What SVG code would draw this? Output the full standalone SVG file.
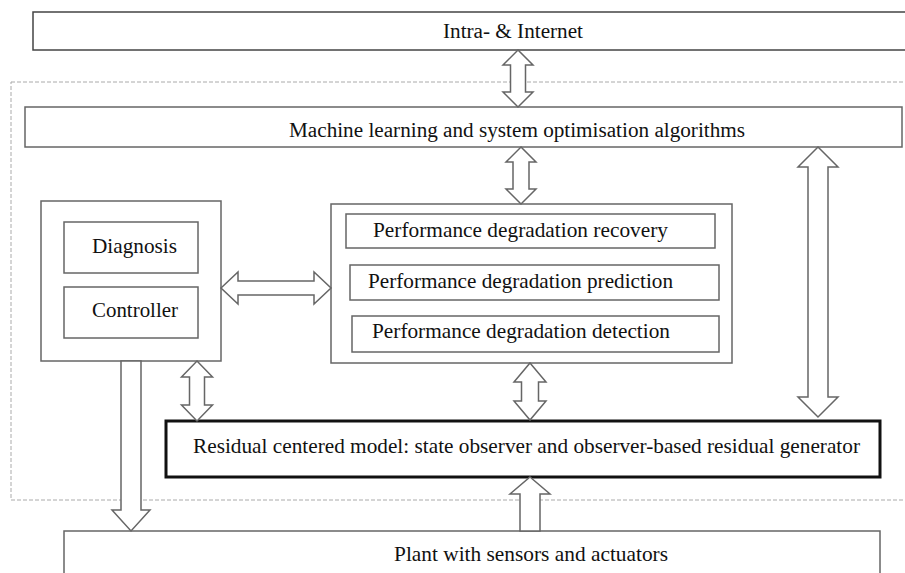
<svg xmlns="http://www.w3.org/2000/svg" width="905" height="573" viewBox="0 0 905 573">
<style>
.box{fill:#fff;stroke:#666;stroke-width:1.5}
.arr{fill:#fff;stroke:#666;stroke-width:1.5;stroke-linejoin:miter}
.t{font-family:'Liberation Serif','Times New Roman','DejaVu Serif',serif;font-size:21px;fill:#111}
</style>
<rect x="0" y="0" width="905" height="573" fill="#fff"/>
<g id="internet">
<rect class="box" x="33" y="12" width="880" height="38" style="stroke:#444"/>
<text class="t" x="443" y="38" textLength="140" lengthAdjust="spacingAndGlyphs" style="font-size:20px">Intra- &amp; Internet</text>
</g>
<g id="boundary">
<rect x="11" y="82" width="900" height="418" fill="none" stroke="#aaa" stroke-width="1" stroke-dasharray="4,2"/>
</g>
<g id="ml">
<rect class="box" x="25" y="107" width="877" height="40"/>
<text class="t" x="289" y="137" textLength="456" lengthAdjust="spacingAndGlyphs" style="font-size:20px">Machine learning and system optimisation algorithms</text>
</g>
<g id="diag-ctrl">
<rect class="box" x="41" y="201" width="180" height="160"/>
<g id="diagnosis">
<rect class="box" x="64" y="222" width="134" height="51"/>
<text class="t" x="92" y="253" textLength="85" lengthAdjust="spacingAndGlyphs">Diagnosis</text>
</g>
<g id="controller">
<rect class="box" x="64" y="287" width="134" height="51"/>
<text class="t" x="92" y="317" textLength="86" lengthAdjust="spacingAndGlyphs">Controller</text>
</g>
</g>
<g id="performance">
<rect class="box" x="331" y="204" width="401" height="159"/>
<g id="recovery">
<rect class="box" x="346" y="214" width="369" height="34"/>
<text class="t" x="373" y="237" textLength="295" lengthAdjust="spacingAndGlyphs">Performance degradation recovery</text>
</g>
<g id="prediction">
<rect class="box" x="350" y="265" width="369" height="35"/>
<text class="t" x="368" y="288" textLength="305" lengthAdjust="spacingAndGlyphs">Performance degradation prediction</text>
</g>
<g id="detection">
<rect class="box" x="352" y="316" width="367" height="36"/>
<text class="t" x="372" y="338" textLength="298" lengthAdjust="spacingAndGlyphs">Performance degradation detection</text>
</g>
</g>
<g id="residual">
<rect x="166" y="421" width="714" height="56" fill="#fff" stroke="#111" stroke-width="3"/>
<text class="t" x="193" y="453" textLength="667" lengthAdjust="spacingAndGlyphs">Residual centered model: state observer and observer-based residual generator</text>
</g>
<g id="plant">
<rect class="box" x="64" y="531" width="816" height="60"/>
<text class="t" x="394" y="561" textLength="274" lengthAdjust="spacingAndGlyphs">Plant with sensors and actuators</text>
</g>
<g id="connectors">
<polygon class="arr" points="518,50 533,65 525.5,65 525.5,92 533,92 518,107 503,92 510.5,92 510.5,65 503,65"/>
<polygon class="arr" points="521,147 536,162 529,162 529,189 536,189 521,204 506,189 513,189 513,162 506,162"/>
<polygon class="arr" points="818,147 838,167 828,167 828,397 838,397 818,417 798,397 808,397 808,167 798,167"/>
<polygon class="arr" points="221,288 238,272 238,281 314,281 314,272 331,288 314,304 314,295 238,295 238,304"/>
<polygon class="arr" points="197,361 212.5,377 204.5,377 204.5,405 212.5,405 197,421 181.5,405 189.5,405 189.5,377 181.5,377"/>
<polygon class="arr" points="530,363 546,382 538.5,382 538.5,401 546,401 530,420 514,401 521.5,401 521.5,382 514,382"/>
<polygon class="arr" points="121,361 141,361 141,510 150,510 131,531 112,510 121,510"/>
<polygon class="arr" points="530,477 550,494 540,494 540,531 520,531 520,494 510,494"/>
</g>
</svg>
